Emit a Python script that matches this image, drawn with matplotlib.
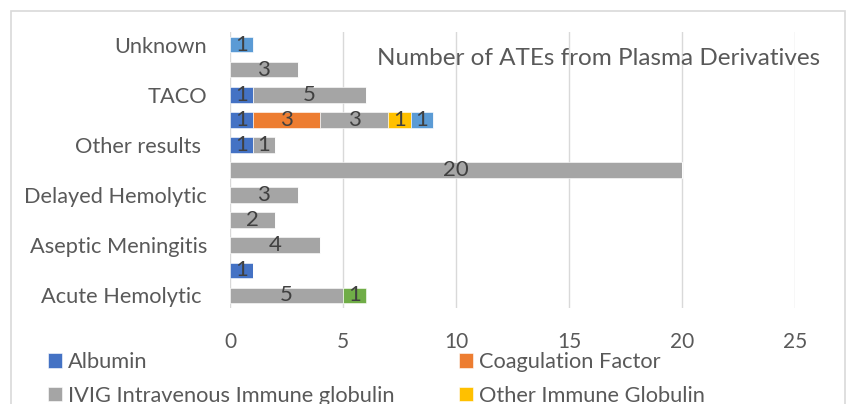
import matplotlib.pyplot as plt
import matplotlib.patches as mpatches

plt.rcParams['font.family'] = ['Lato', 'DejaVu Sans']

categories = ["Acute Hemolytic ", "", "Aseptic Meningitis", "", "Delayed Hemolytic",
              "", "Other results ", "", "TACO", "", "Unknown"]

series_names = ["Albumin", "Coagulation Factor", "IVIG Intravenous Immune globulin",
                "Other Immune Globulin", "Series 5", "Series 6"]
albumin = [0, 1, 0, 0, 0, 0, 1, 1, 1, 0, 0]
coagulation = [0, 0, 0, 0, 0, 0, 0, 3, 0, 0, 0]
ivig = [5, 0, 4, 2, 3, 20, 1, 3, 5, 3, 0]
other_ig = [0, 0, 0, 0, 0, 0, 0, 1, 0, 0, 0]
series5 = [0, 0, 0, 0, 0, 0, 0, 1, 0, 0, 1]
series6 = [1, 0, 0, 0, 0, 0, 0, 0, 0, 0, 0]

colors = ["#4472C4", "#ED7D31", "#A5A5A5", "#FFC000", "#5B9BD5", "#70AD47"]
text_color = "#595959"

fig = plt.figure(figsize=(8.55, 4.04), dpi=100)
ax = fig.add_axes([230 / 855, 1 - 308 / 404, 565 / 855, 276 / 404])

# outer chart frame, bottom runs past the image edge
fig.patches.append(mpatches.Rectangle((11 / 855, -0.1), 834 / 855, 1.1 - 11 / 404,
                                      transform=fig.transFigure, fill=False,
                                      edgecolor="#D9D9D9", lw=1.2))

y = list(range(len(categories)))
left = [0] * len(categories)
bars = []
for name, vals, col in zip(series_names,
                           [albumin, coagulation, ivig, other_ig, series5, series6],
                           colors):
    b = ax.barh(y, vals, left=left, height=0.62, color=col, label=name,
                edgecolor="white", linewidth=0.4, zorder=3)
    bars.append(b)
    for yi, v, l in zip(y, vals, left):
        if v:
            ax.text(l + v / 2, yi, str(v), ha="center", va="center",
                    fontsize=16, color="#404040", zorder=4)
    left = [a + b_ for a, b_ in zip(left, vals)]

ax.set_xlim(0, 25)
ax.set_ylim(-0.5, len(categories) - 0.5)
ax.set_xticks(range(0, 26, 5))
ax.set_yticks(y)
ax.set_yticklabels(categories, fontsize=15.7)
ax.tick_params(axis="both", length=0, colors=text_color)
ax.tick_params(axis="x", labelsize=15, pad=17)
ax.tick_params(axis="y", pad=16.5)
for s in ax.spines.values():
    s.set_visible(False)
ax.grid(axis="x", color="#D9D9D9", lw=1, zorder=0)
ax.set_axisbelow(True)

ax.text(0.653, 0.905, "Number of ATEs from Plasma Derivatives", transform=ax.transAxes,
        ha="center", va="center", fontsize=17.5, color=text_color)

# Excel-style legend: two fixed columns, placed one column at a time
leg_kw = dict(loc="upper left", frameon=False, fontsize=15.7, labelcolor=text_color,
              handlelength=0.64, handleheight=0.64, handletextpad=0.28,
              labelspacing=0.62, borderaxespad=0, borderpad=0)
for idx, x0 in (([0, 2], 48), ([1, 3], 459)):
    fig.legend(handles=[bars[i] for i in idx], labels=[series_names[i] for i in idx],
               bbox_to_anchor=(x0 / 855, 1 - 352 / 404), **leg_kw)

fig.savefig("out.png", dpi=100)
